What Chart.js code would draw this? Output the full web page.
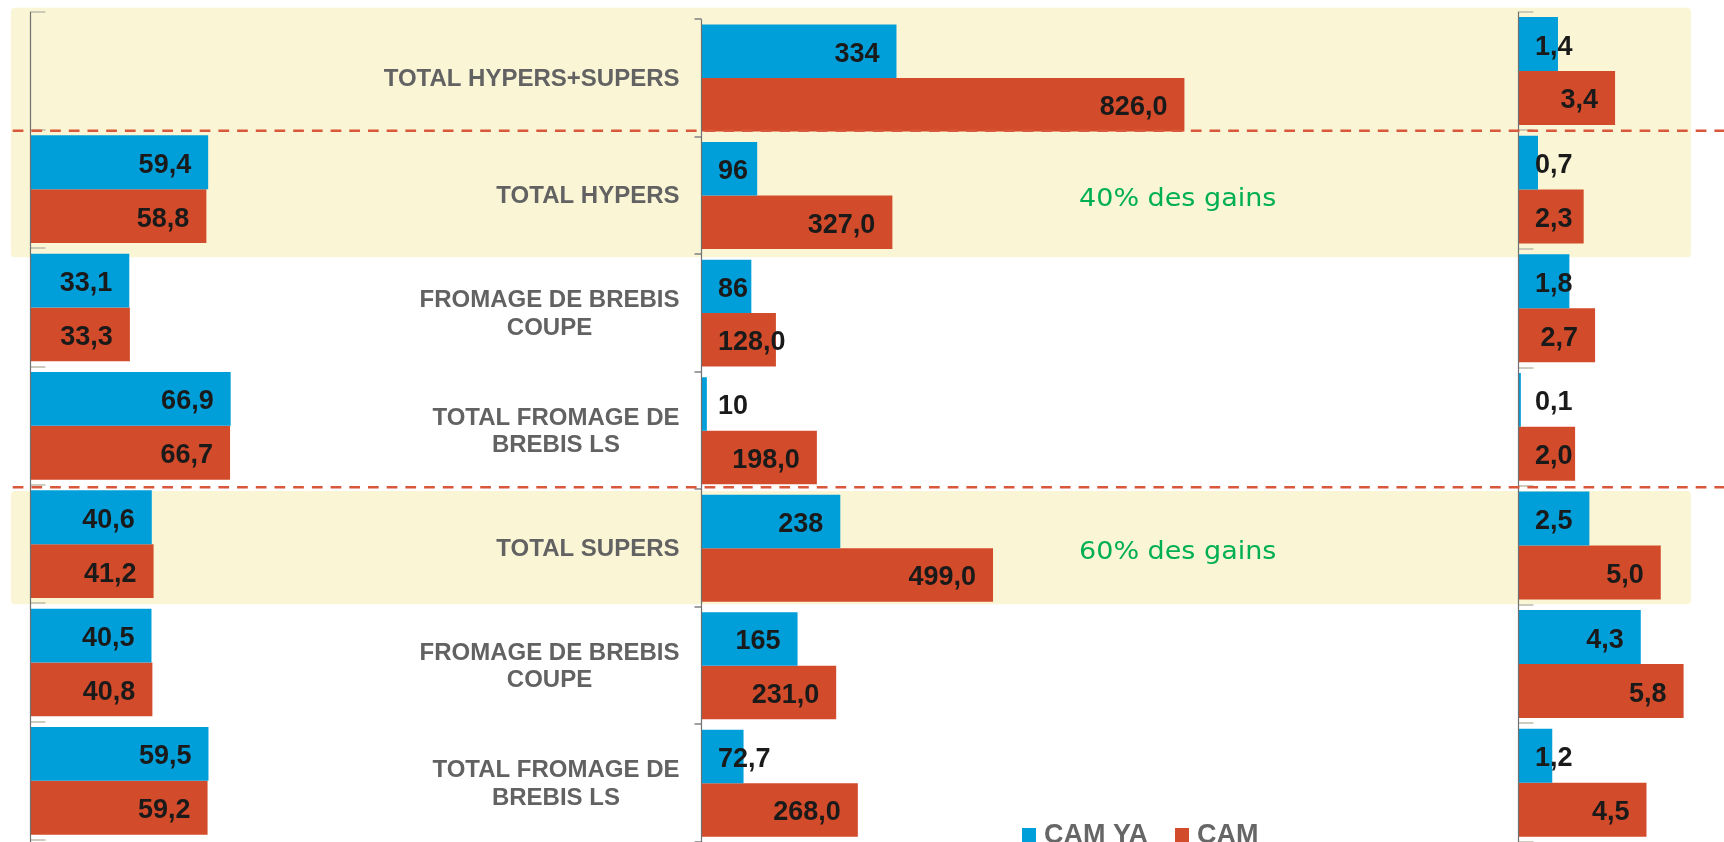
<!DOCTYPE html>
<html>
<head>
<meta charset="utf-8">
<script src="https://cdn.jsdelivr.net/npm/chart.js@4.4.1/dist/chart.umd.min.js"></script>
<style>
    html, body { margin: 0; padding: 0; background: #fff; }
    #wrap { position: relative; width: 1724px; height: 842px; overflow: hidden; }
    #wrap canvas { position: absolute; left: 0; top: 0; }
</style>
</head>
<body>
<div id="wrap">
    <canvas id="cLeft" width="1724" height="842"></canvas>
    <canvas id="cMid" width="1724" height="842"></canvas>
    <canvas id="cRight" width="1724" height="842"></canvas>
</div>
<script>
// ---- data ----
const categories = [
    "TOTAL HYPERS+SUPERS",
    "TOTAL HYPERS",
    ["FROMAGE DE BREBIS", "COUPE"],
    ["TOTAL FROMAGE DE", "BREBIS LS"],
    "TOTAL SUPERS",
    ["FROMAGE DE BREBIS", "COUPE"],
    ["TOTAL FROMAGE DE", "BREBIS LS"]
];
const seriesNames = ["CAM YA", "CAM"];

const leftYA   = [null, 59.4, 33.1, 66.9, 40.6, 40.5, 59.5];
const leftCAM  = [null, 58.8, 33.3, 66.7, 41.2, 40.8, 59.2];
const midYA    = [334, 96, 86, 10, 238, 165, 72.7];
const midCAM   = [826, 327, 128, 198, 499, 231, 268];
const rightYA  = [1.4, 0.7, 1.8, 0.1, 2.5, 4.3, 1.2];
const rightCAM = [3.4, 2.3, 2.7, 2.0, 5.0, 5.8, 4.5];

const gainNotes = ["", "40% des gains", "", "", "60% des gains", "", ""];

// ---- styles ----
const BLUE = "#009fda";
const RED = "#d24b2a";
const BAND = "#faf5d5";
const AXIS = "#707070";
const LABEL_FONT = 'bold 27px "Liberation Sans", Arial, sans-serif';
const CAT_FONT = 'bold 24px "Liberation Sans", Arial, sans-serif';

const oneDec = v => v.toFixed(1).replace(".", ",");
const plain = v => String(v).replace(".", ",");

// bars values, right-aligned inside the bar end, pushed out when bar too short
const valueLabels = {
    id: "valueLabels",
    afterDatasetsDraw(chart) {
        const ctx = chart.ctx;
        const base = chart.scales.x.getPixelForValue(0);
        ctx.save();
        ctx.font = LABEL_FONT;
        ctx.fillStyle = "#1a1a1a";
        ctx.textAlign = "left";
        ctx.textBaseline = "alphabetic";
        chart.data.datasets.forEach((ds, di) => {
            chart.getDatasetMeta(di).data.forEach((bar, i) => {
                const v = ds.data[i];
                if (v == null) return;
                const txt = ds.fmt(v);
                const w = ctx.measureText(txt).width;
                let x = bar.x - 17 - w;
                if (x < base + 17) x = base + 17;
                ctx.fillText(txt, x, bar.y + 10.5);
            });
        });
        ctx.restore();
    }
};

function axisPlugin(side, tickColor, tickLen) {
    return {
        id: "panelAxis",
        afterDatasetsDraw(chart) {
            const { ctx, chartArea, scales: { x, y } } = chart;
            const base = Math.round(x.getPixelForValue(0)) + 0.5;
            ctx.save();
            ctx.lineWidth = 1.5;
            ctx.strokeStyle = tickColor;
            for (let i = 0; i <= categories.length; i++) {
                const ty = Math.round(y.getPixelForValue(i - 0.5));
                ctx.beginPath();
                ctx.moveTo(base, ty);
                ctx.lineTo(base + side * tickLen, ty);
                ctx.stroke();
            }
            ctx.strokeStyle = AXIS;
            ctx.lineWidth = 1.2;
            ctx.beginPath();
            ctx.moveTo(base, chartArea.top);
            ctx.lineTo(base, chart.height);
            ctx.stroke();
            ctx.restore();
        }
    };
}

// cream bands behind everything (bottom canvas)
const BAND_X = [11, 1691];
const BANDS = [
    { from: 0, to: 1, dTop: -4, dBottom: 9 },
    { from: 4, to: 4, dTop: 6, dBottom: 1 }
];
const bandsPlugin = {
    id: "bands",
    beforeDatasetsDraw(chart) {
        const { ctx, scales: { y } } = chart;
        ctx.save();
        ctx.fillStyle = BAND;
        BANDS.forEach(b => {
            const top = y.getPixelForValue(b.from - 0.5) + b.dTop;
            const bottom = y.getPixelForValue(b.to + 0.5) + b.dBottom;
            ctx.beginPath();
            if (ctx.roundRect) ctx.roundRect(BAND_X[0], top, BAND_X[1] - BAND_X[0], bottom - top, 4);
            else ctx.rect(BAND_X[0], top, BAND_X[1] - BAND_X[0], bottom - top);
            ctx.fill();
        });
        ctx.restore();
    }
};

// red dashed separators (top canvas)
const DIVIDERS = [{ at: 0.5, dy: 0.5 }, { at: 3.5, dy: 1 }];
const dividersPlugin = {
    id: "dividers",
    afterDraw(chart) {
        const { ctx, scales: { y } } = chart;
        ctx.save();
        ctx.strokeStyle = "#d9573b";
        ctx.lineWidth = 2.5;
        ctx.setLineDash([10.7, 8]);
        DIVIDERS.forEach(d => {
            const yy = y.getPixelForValue(d.at) + d.dy;
            ctx.beginPath();
            ctx.moveTo(12.7, yy);
            ctx.lineTo(chart.width, yy);
            ctx.stroke();
        });
        ctx.restore();
    }
};

// category names, gain notes and legend (middle chart)
const middleText = {
    id: "middleText",
    afterDraw(chart) {
        const { ctx, chartArea, scales: { y } } = chart;
        ctx.save();

        ctx.font = CAT_FONT;
        ctx.fillStyle = "#626262";
        ctx.textAlign = "center";
        ctx.textBaseline = "alphabetic";
        const right = chartArea.left - 21.5;
        categories.forEach((c, i) => {
            const lines = Array.isArray(c) ? c : [c];
            const w = Math.max(...lines.map(l => ctx.measureText(l).width));
            const cx = right - w / 2;
            const cy = y.getPixelForValue(i);
            lines.forEach((l, k) => {
                ctx.fillText(l, cx, cy + 7.7 + (k - (lines.length - 1) / 2) * 27.7);
            });
        });

        ctx.font = '25px "DejaVu Sans", Verdana, sans-serif';
        ctx.fillStyle = "#00b050";
        gainNotes.forEach((t, i) => {
            if (!t) return;
            ctx.save();
            ctx.translate(chartArea.left + 476.7, y.getPixelForValue(i) + 10.7);
            ctx.scale(1.08, 1);
            ctx.fillText(t, 0, 0);
            ctx.restore();
        });

        // legend
        ctx.font = LABEL_FONT;
        ctx.textAlign = "left";
        let lx = chartArea.left + 321;
        [BLUE, RED].forEach((col, k) => {
            ctx.fillStyle = col;
            ctx.fillRect(lx, 828, 14, 16);
            lx += 22;
            ctx.fillStyle = "#666666";
            ctx.fillText(seriesNames[k], lx, 842.5);
            lx += ctx.measureText(seriesNames[k]).width + 27;
        });
        ctx.restore();
    }
};

function makePanel(id, ya, cam, cfg) {
    return new Chart(document.getElementById(id), {
        type: "bar",
        data: {
            labels: categories,
            datasets: [
                { label: seriesNames[0], data: ya, backgroundColor: BLUE, fmt: cfg.fmtYA },
                { label: seriesNames[1], data: cam, backgroundColor: RED, fmt: oneDec }
            ]
        },
        options: {
            indexAxis: "y",
            responsive: false,
            animation: false,
            events: [],
            layout: { padding: cfg.pad },
            datasets: { bar: { categoryPercentage: 0.91, barPercentage: 1 } },
            scales: {
                x: { display: false, min: 0, max: cfg.max, stacked: false },
                y: { display: false }
            },
            plugins: { legend: { display: false }, tooltip: { enabled: false } }
        },
        plugins: cfg.plugins
    });
}

makePanel("cLeft", leftYA, leftCAM, {
    pad: { left: 30, right: 1023, top: 11.7, bottom: 2 },
    max: 223.7,
    fmtYA: oneDec,
    plugins: [bandsPlugin, axisPlugin(1, "#bdbaa8", 15), valueLabels]
});

makePanel("cMid", midYA, midCAM, {
    pad: { left: 701, right: 206, top: 19.3, bottom: -3.8 },
    max: 1396,
    fmtYA: plain,
    plugins: [axisPlugin(-1, "#808080", 7), valueLabels, middleText]
});

makePanel("cRight", rightYA, rightCAM, {
    pad: { left: 1518, right: 0, top: 11.7, bottom: -3 },
    max: 7.215,
    fmtYA: oneDec,
    plugins: [axisPlugin(1, "#bdbaa8", 15), valueLabels, dividersPlugin]
});
</script>
</body>
</html>
